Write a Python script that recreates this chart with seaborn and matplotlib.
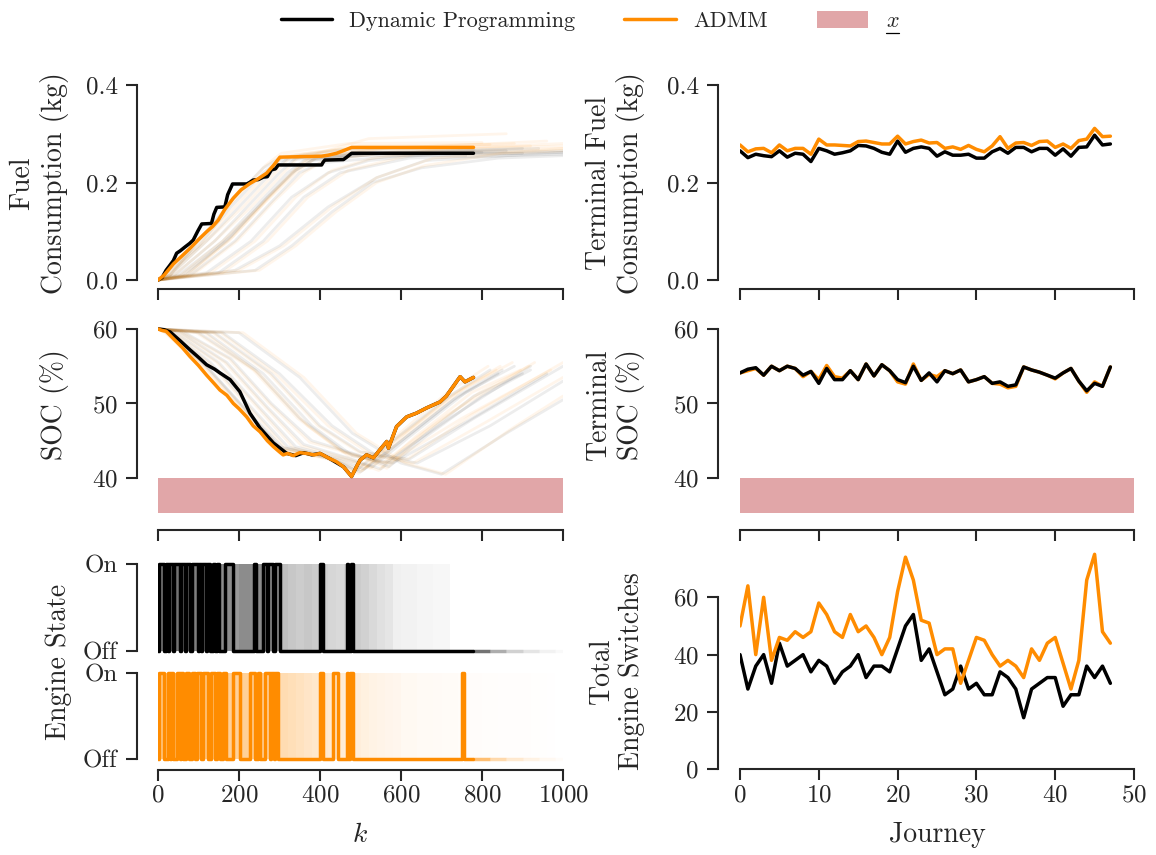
import matplotlib
matplotlib.use("Agg")
import matplotlib.pyplot as plt
import seaborn as sns
from matplotlib.lines import Line2D
from matplotlib.patches import Patch
from matplotlib.collections import LineCollection
from matplotlib.colors import to_rgba
from matplotlib.ticker import FormatStrFormatter

# ---------------- right column: results per journey ----------------
journeys = list(range(48))
term_fuel_dp = [0.265, 0.251, 0.258, 0.255, 0.253, 0.265, 0.252, 0.260, 0.258, 0.243,
                0.270, 0.265, 0.258, 0.261, 0.265, 0.276, 0.275, 0.270, 0.262, 0.258,
                0.285, 0.262, 0.270, 0.273, 0.270, 0.254, 0.263, 0.256, 0.256, 0.258,
                0.250, 0.250, 0.263, 0.270, 0.260, 0.272, 0.272, 0.263, 0.270, 0.270,
                0.256, 0.269, 0.254, 0.272, 0.273, 0.297, 0.277, 0.279]
term_fuel_admm = [0.277, 0.263, 0.269, 0.270, 0.261, 0.277, 0.265, 0.270, 0.270, 0.258,
                  0.289, 0.277, 0.277, 0.276, 0.275, 0.284, 0.285, 0.282, 0.279, 0.279,
                  0.295, 0.279, 0.284, 0.287, 0.281, 0.282, 0.270, 0.273, 0.268, 0.276,
                  0.268, 0.263, 0.275, 0.294, 0.270, 0.281, 0.282, 0.276, 0.284, 0.285,
                  0.272, 0.279, 0.270, 0.286, 0.289, 0.311, 0.294, 0.295]
term_soc_dp = [54.1, 54.6, 54.8, 53.8, 55.0, 54.4, 55.0, 54.7, 53.8, 54.3,
               52.7, 54.7, 53.2, 53.2, 54.4, 53.2, 55.3, 53.7, 55.2, 54.4,
               53.2, 52.8, 55.0, 53.1, 54.1, 52.9, 54.4, 54.0, 54.5, 52.9,
               53.2, 53.6, 52.7, 52.9, 52.3, 52.5, 54.9, 54.5, 54.2, 53.8,
               53.4, 54.1, 54.7, 53.0, 51.7, 52.7, 52.3, 54.9]
term_soc_admm = [54.1, 54.4, 54.7, 53.8, 55.0, 54.4, 55.0, 54.7, 53.6, 54.3,
                 53.2, 55.1, 53.6, 53.4, 54.4, 53.2, 55.3, 53.7, 55.2, 54.4,
                 52.9, 52.6, 55.3, 53.1, 53.9, 53.6, 54.4, 54.0, 54.5, 52.9,
                 53.2, 53.6, 52.7, 52.6, 52.1, 52.3, 54.9, 54.5, 54.2, 53.8,
                 53.3, 54.1, 54.7, 53.0, 51.5, 52.9, 52.3, 54.9]
switches_dp = [40, 28, 36, 40, 30, 44, 36, 38, 40, 34, 38, 36, 30, 34, 36, 40, 32, 36,
               36, 34, 42, 50, 54, 38, 42, 34, 26, 28, 36, 28, 30, 26, 26, 34, 32, 28,
               18, 28, 30, 32, 32, 22, 26, 26, 36, 32, 36, 30]
switches_admm = [50, 64, 40, 60, 38, 46, 45, 48, 46, 48, 58, 54, 48, 46, 54, 48, 50, 46,
                 40, 46, 62, 74, 66, 52, 51, 40, 42, 42, 30, 38, 46, 45, 40, 36, 38, 36,
                 32, 42, 38, 44, 46, 37, 28, 38, 66, 75, 48, 44]

# ---------------- left column: one highlighted journey ----------------
journey_end_k = 779
dp_fuel_k = [0, 10, 20, 30, 38, 46, 55, 67, 78, 87, 98, 108, 132, 138, 145, 165, 172, 184,
             219, 226, 235, 248, 260, 270, 280, 290, 297, 404, 408, 412, 458, 466, 478, 779]
dp_fuel_v = [0, 0.005, 0.02, 0.031, 0.04, 0.055, 0.06, 0.068, 0.075, 0.082, 0.10, 0.115,
             0.116, 0.135, 0.149, 0.150, 0.175, 0.197, 0.197, 0.200, 0.205, 0.206, 0.211,
             0.212, 0.226, 0.228, 0.236, 0.236, 0.242, 0.246, 0.247, 0.252, 0.260, 0.260]
admm_fuel_k = [0, 15, 38, 60, 79, 100, 120, 135, 149, 165, 186, 205, 227, 248, 268, 285,
               301, 404, 420, 441, 460, 478, 779]
admm_fuel_v = [0, 0.010, 0.033, 0.050, 0.065, 0.083, 0.099, 0.110, 0.123, 0.145, 0.168,
               0.185, 0.198, 0.208, 0.219, 0.235, 0.252, 0.254, 0.256, 0.260, 0.266,
               0.272, 0.272]
dp_soc_k = [0, 15, 30, 55, 79, 100, 120, 140, 153, 178, 202, 227, 252, 285, 318, 340, 360,
            380, 400, 424, 458, 478]
dp_soc_v = [60, 59.9, 59.6, 58.4, 57.2, 56.2, 55.2, 54.6, 54.1, 53.2, 51.6, 48.7, 46.7,
            44.7, 43.3, 43.0, 43.4, 43.1, 43.3, 42.6, 41.5, 40.2]
admm_soc_k = [0, 10, 20, 38, 60, 79, 100, 120, 140, 153, 170, 186, 200, 219, 235, 252,
              270, 285, 300, 309, 320, 334, 350, 367, 385, 400, 424, 440, 458, 478]
admm_soc_v = [60, 59.8, 59.7, 58.7, 57.5, 56.3, 55.1, 53.8, 52.6, 51.8, 51.1, 50.0, 49.3,
              48.2, 47.0, 46.2, 45.0, 44.2, 43.5, 43.1, 43.3, 43.0, 43.4, 43.3, 43.1, 43.3,
              42.6, 42.2, 41.5, 40.2]
soc_rise_k = [490, 499, 515, 532, 548, 565, 569, 589, 614, 638, 663, 696, 712, 729, 746,
              758, 779]
soc_rise_v = [41.5, 42.4, 43.1, 42.7, 43.8, 44.9, 44.0, 46.9, 48.2, 48.7, 49.4, 50.2,
              51.0, 52.3, 53.6, 52.9, 53.5]
dp_on_start = [2, 20, 27, 40, 58, 70, 84, 100, 108, 120, 137, 146, 166, 236, 260, 272,
               289, 400, 466, 477]
dp_on_end = [16, 24, 36, 55, 67, 80, 98, 106, 118, 128, 141, 150, 186, 243, 268, 285,
             300, 407, 470, 481]
admm_on_start = [2, 25, 33, 46, 58, 70, 83, 96, 110, 132, 145, 160, 186, 226, 246, 264,
                 280, 290, 400, 433, 466, 474, 751]
admm_on_end = [16, 30, 38, 54, 62, 76, 91, 105, 124, 141, 153, 168, 203, 240, 252, 276,
               287, 297, 407, 445, 470, 482, 755]
soc_lower_bound = 40

# ---------------- left column: the other journeys (faint) ----------------
bg_fuel_dp = [
    ([0, 20, 100, 180, 260, 300, 480, 760], [0, .01, .07, .15, .22, .245, .255, .255]),
    ([0, 30, 120, 200, 280, 320, 500, 800], [0, .01, .08, .15, .22, .25, .262, .262]),
    ([0, 40, 140, 220, 300, 340, 520, 860], [0, .01, .08, .15, .22, .25, .26, .265]),
    ([0, 50, 160, 240, 320, 360, 540, 900], [0, .01, .08, .15, .22, .245, .258, .26]),
    ([0, 60, 170, 260, 330, 380, 560, 940], [0, .01, .08, .16, .22, .245, .26, .27]),
    ([0, 80, 190, 280, 350, 400, 600, 1000], [0, .01, .08, .16, .22, .24, .255, .262]),
    ([0, 30, 110, 190, 260, 300, 460, 780], [0, .01, .09, .17, .23, .25, .268, .268]),
    ([0, 70, 180, 270, 340, 390, 520, 900], [0, .01, .09, .17, .225, .25, .26, .27]),
    ([0, 150, 260, 360, 450, 620, 1000], [0, .015, .08, .17, .22, .25, .258]),
    ([0, 190, 300, 420, 540, 660, 1000], [0, .02, .07, .15, .21, .245, .262]),
    ([0, 240, 330, 430, 530, 650, 840, 1000], [0, .02, .07, .14, .20, .23, .25, .255]),
    ([0, 120, 230, 330, 420, 520, 700, 1000], [0, .015, .08, .17, .22, .245, .26, .265]),
]
bg_fuel_admm = [
    ([0, 20, 100, 190, 270, 310, 480, 760], [0, .01, .07, .15, .22, .255, .27, .272]),
    ([0, 30, 120, 210, 290, 330, 500, 820], [0, .01, .08, .15, .22, .255, .275, .278]),
    ([0, 40, 140, 230, 310, 350, 520, 880], [0, .01, .08, .15, .22, .255, .27, .28]),
    ([0, 55, 160, 250, 330, 370, 540, 920], [0, .01, .08, .15, .22, .25, .268, .275]),
    ([0, 65, 175, 265, 340, 390, 560, 960], [0, .01, .08, .16, .22, .25, .27, .285]),
    ([0, 85, 195, 285, 360, 410, 600, 1000], [0, .01, .08, .16, .22, .245, .265, .275]),
    ([0, 30, 110, 195, 265, 305, 470, 800], [0, .01, .09, .17, .235, .26, .28, .282]),
    ([0, 75, 185, 275, 345, 395, 520, 860], [0, .01, .09, .17, .23, .26, .29, .30]),
    ([0, 160, 270, 370, 470, 640, 1000], [0, .015, .08, .17, .225, .26, .27]),
    ([0, 200, 310, 430, 540, 680, 1000], [0, .02, .07, .15, .21, .25, .27]),
    ([0, 250, 340, 440, 540, 660, 850, 1000], [0, .02, .07, .14, .20, .235, .26, .265]),
    ([0, 130, 240, 340, 430, 530, 710, 1000], [0, .015, .08, .17, .225, .25, .27, .28]),
]
bg_soc_dp = [
    ([0, 20, 110, 210, 300, 420, 490, 580, 720, 820], [60, 59.6, 55.5, 49.5, 44.2, 42.8, 41, 45, 51, 54.5]),
    ([0, 30, 130, 230, 320, 440, 510, 600, 740, 850], [60, 59.6, 55.5, 49.5, 44.2, 42.5, 41.2, 45, 51, 54.5]),
    ([0, 40, 150, 250, 340, 460, 530, 620, 760, 880], [60, 59.6, 55.5, 49.5, 44.2, 42.5, 41.5, 45.5, 51.5, 55]),
    ([0, 50, 170, 270, 360, 480, 550, 640, 780, 900], [60, 59.7, 55.5, 49.5, 44.5, 42.5, 41.2, 45, 51, 54]),
    ([0, 25, 120, 220, 310, 430, 500, 590, 730, 840], [60, 59.5, 55, 49, 44, 42.5, 40.8, 44.5, 50.5, 54]),
    ([0, 60, 180, 280, 380, 500, 570, 660, 800, 920], [60, 59.7, 56, 50, 45, 43, 41.5, 45.5, 51, 54.5]),
    ([0, 120, 260, 380, 480, 580, 760, 960], [60, 59.5, 54, 47, 43, 42, 47.5, 54]),
    ([0, 160, 300, 430, 540, 640, 820, 1000], [60, 59.5, 54, 47, 43, 42, 47, 53]),
    ([0, 200, 350, 480, 600, 700, 860, 1000], [60, 59.5, 53.5, 46, 42, 40.5, 46, 50.5]),
    ([0, 100, 240, 350, 460, 560, 720, 920], [60, 59.5, 54.5, 48, 43.5, 42, 48, 55]),
    ([0, 140, 280, 400, 500, 620, 780, 1000], [60, 59.5, 54, 47, 43.5, 42.5, 48, 55]),
]
bg_soc_admm = [
    ([0, 15, 100, 200, 290, 410, 485, 575, 715, 815], [60, 59.6, 55.5, 49.5, 44, 42.8, 40.8, 45, 51.5, 55]),
    ([0, 25, 125, 225, 315, 435, 505, 595, 735, 845], [60, 59.6, 55.5, 49.5, 44, 42.5, 41, 45.5, 51.5, 55]),
    ([0, 35, 145, 245, 335, 455, 525, 615, 755, 875], [60, 59.6, 55.5, 49.5, 44, 42.5, 41.3, 46, 52, 55.5]),
    ([0, 45, 165, 265, 355, 475, 545, 635, 775, 895], [60, 59.7, 55.5, 49.5, 44.3, 42.5, 41, 45.5, 51.5, 54.5]),
    ([0, 20, 115, 215, 305, 425, 495, 585, 725, 835], [60, 59.5, 55, 49, 43.8, 42.5, 40.6, 45, 51, 54.5]),
    ([0, 55, 175, 275, 375, 495, 565, 655, 795, 915], [60, 59.7, 56, 50, 44.8, 43, 41.3, 46, 51.5, 55]),
    ([0, 115, 250, 370, 470, 570, 750, 970], [60, 59.5, 54, 47, 43, 42, 48, 54.5]),
    ([0, 155, 290, 420, 530, 630, 810, 1000], [60, 59.5, 54, 47, 43, 42, 47.5, 53.5]),
    ([0, 210, 360, 490, 610, 710, 870, 1000], [60, 59.5, 53.5, 46, 42, 40.5, 46.5, 51]),
    ([0, 95, 235, 345, 455, 555, 715, 930], [60, 59.5, 54.5, 48, 43.5, 42, 48.5, 55.5]),
    ([0, 135, 275, 395, 495, 615, 775, 1000], [60, 59.5, 54, 47, 43.5, 42.5, 48.5, 55.5]),
]
bg_engine_bins = list(range(0, 1000, 20))
bg_engine_share_dp = [0.50, 0.50, 0.55, 0.50, 0.50, 0.50, 0.45, 0.45, 0.45, 0.40,
                      0.45, 0.45, 0.45, 0.40, 0.40, 0.25, 0.22, 0.20, 0.22, 0.20,
                      0.18, 0.16, 0.15, 0.18, 0.20, 0.18, 0.15, 0.12, 0.10, 0.06,
                      0.05, 0.05, 0.04, 0.04, 0.03, 0.03, 0.0, 0.0, 0.0, 0.0,
                      0.0, 0.0, 0.0, 0.0, 0.0, 0.0, 0.0, 0.0, 0.0, 0.0]
bg_engine_share_admm = [0.45, 0.45, 0.50, 0.45, 0.45, 0.45, 0.40, 0.40, 0.40, 0.40,
                        0.40, 0.40, 0.40, 0.35, 0.35, 0.30, 0.28, 0.25, 0.22, 0.20,
                        0.20, 0.18, 0.16, 0.15, 0.14, 0.12, 0.10, 0.09, 0.08, 0.07,
                        0.05, 0.05, 0.04, 0.04, 0.035, 0.03, 0.03, 0.025, 0.02, 0.02,
                        0.015, 0.015, 0.01, 0.01, 0.01, 0.01, 0.008, 0.008, 0.005, 0.0]
bg_off_k = [779, 820, 860, 900, 940, 980, 1000]
bg_off_alpha = [0.55, 0.32, 0.18, 0.10, 0.05, 0.025]

# ---------------- style ----------------
sns.set_theme(style="ticks")
plt.rcParams.update({
    "font.family": ["cmr10"],
    "mathtext.fontset": "cm",
    "axes.formatter.use_mathtext": True,
    "axes.unicode_minus": False,
})
INK = "#262626"
ORANGE = "darkorange"
BAND = "#C44E52"
W, H = 1156, 855
fig = plt.figure(figsize=(W / 100, H / 100), dpi=100)


def rect(x0, x1, ytop, ybot):
    return [x0 / W, 1 - ybot / H, (x1 - x0) / W, (ybot - ytop) / H]


def style(ax, xb, yb, left_px, bottom_px, xticks, yticks, show_x=True, xlabels=False):
    for s in ("top", "right"):
        ax.spines[s].set_visible(False)
    for s in ("left", "bottom"):
        ax.spines[s].set_linewidth(1.5)
        ax.spines[s].set_color(INK)
    ax.spines["left"].set_position(("outward", left_px * 0.72))
    ax.spines["left"].set_bounds(*yb)
    ax.set_yticks(yticks)
    ax.tick_params(axis="both", length=8, width=1.5, color=INK, labelcolor=INK,
                   labelsize=18)
    ax.tick_params(axis="y", pad=6)
    ax.tick_params(axis="x", pad=2.5)
    if show_x:
        ax.spines["bottom"].set_position(("outward", bottom_px * 0.72))
        ax.spines["bottom"].set_bounds(*xb)
        ax.set_xticks(xticks)
        if not xlabels:
            ax.tick_params(axis="x", labelbottom=False)
    else:
        ax.spines["bottom"].set_visible(False)
        ax.set_xticks([])
    ax.set_xlabel("")
    ax.set_ylabel("")


def line(ax, x, y, color, lw=2.5, alpha=1.0, z=3):
    sns.lineplot(x=x, y=y, ax=ax, color=color, lw=lw, alpha=alpha, sort=False,
                 estimator=None, zorder=z, legend=False)


def step_xy(starts, ends, end_k):
    xs, ys = [0], [0]
    for s, e in zip(starts, ends):
        xs += [s, s, e, e]
        ys += [0, 1, 1, 0]
    xs.append(end_k)
    ys.append(0)
    return xs, ys


kticks = [0, 200, 400, 600, 800, 1000]
jticks = [0, 10, 20, 30, 40, 50]

# ---- fuel (left) ----
ax = fig.add_axes(rect(158, 563, 80.1, 285.9))
for k, v in bg_fuel_dp:
    line(ax, k, v, "black", lw=2, alpha=0.07, z=1)
for k, v in bg_fuel_admm:
    line(ax, k, v, ORANGE, lw=2, alpha=0.08, z=1)
line(ax, dp_fuel_k, dp_fuel_v, "black")
line(ax, admm_fuel_k, admm_fuel_v, ORANGE, z=4)
ax.set_xlim(0, 1000)
ax.set_ylim(-0.012, 0.41)
style(ax, (0, 1000), (0, 0.4), 21, 3, kticks, [0, 0.2, 0.4])
ax.yaxis.set_major_formatter(FormatStrFormatter("%.1f"))
ax.set_ylabel("Fuel\nConsumption (kg)", fontsize=20, color=INK)
ax.yaxis.set_label_coords(-0.22, 0.5)

# ---- SOC (left) ----
ax = fig.add_axes(rect(158, 563, 326.0, 513.0))
ax.axhspan(30, soc_lower_bound, color=BAND, alpha=0.5, lw=0, zorder=0)
for k, v in bg_soc_dp:
    line(ax, k, v, "black", lw=2, alpha=0.07, z=1)
for k, v in bg_soc_admm:
    line(ax, k, v, ORANGE, lw=2, alpha=0.08, z=1)
line(ax, dp_soc_k + soc_rise_k, dp_soc_v + soc_rise_v, "black")
line(ax, admm_soc_k + soc_rise_k, admm_soc_v + soc_rise_v, ORANGE, z=4)
ax.set_xlim(0, 1000)
ax.set_ylim(35.3, 60.4)
style(ax, (0, 1000), (40, 60), 21, 17, kticks, [40, 50, 60])
ax.set_ylabel("SOC (%)", fontsize=20, color=INK)
ax.yaxis.set_label_coords(-0.22, 0.58)

# ---- engine state (left, two stacked axes) ----
for top, bot, color, starts, ends, share, with_x in [
        (558.8, 656.2, "black", dp_on_start, dp_on_end, bg_engine_share_dp, False),
        (667.8, 764.2, ORANGE, admm_on_start, admm_on_end, bg_engine_share_admm, True)]:
    ax = fig.add_axes(rect(158, 563, top, bot))
    ax.bar(bg_engine_bins, [1] * len(bg_engine_bins), width=20, bottom=0, align="edge",
           color=[to_rgba(color, a) for a in share], lw=0, zorder=1)
    segs = [[(bg_off_k[i], 0), (bg_off_k[i + 1], 0)] for i in range(len(bg_off_alpha))]
    ax.add_collection(LineCollection(segs, colors=[to_rgba(color, a) for a in bg_off_alpha],
                                     linewidths=2.5, zorder=2))
    xs, ys = step_xy(starts, ends, journey_end_k)
    line(ax, xs, ys, color, lw=2.5, z=3)
    ax.set_xlim(0, 1000)
    ax.set_ylim(-0.06, 1.06)
    style(ax, (0, 1000), (0, 1), 21, 5.5, kticks, [0, 1], show_x=with_x, xlabels=with_x)
    ax.set_yticklabels(["Off", "On"])
    if with_x:
        ax.set_xlabel("$k$", fontsize=20, color=INK)
        ax.xaxis.set_label_coords(0.5, -0.6)
        ax.set_ylabel("Engine State", fontsize=20, color=INK)
        ax.yaxis.set_label_coords(-0.212, 1.063)

# ---- terminal fuel (right) ----
ax = fig.add_axes(rect(740, 1134, 80.1, 285.9))
line(ax, journeys, term_fuel_dp, "black")
line(ax, journeys, term_fuel_admm, ORANGE, z=4)
ax.set_xlim(0, 50)
ax.set_ylim(-0.012, 0.41)
style(ax, (0, 50), (0, 0.4), 22, 3, jticks, [0, 0.2, 0.4])
ax.yaxis.set_major_formatter(FormatStrFormatter("%.1f"))
ax.set_ylabel("Terminal Fuel\nConsumption (kg)", fontsize=20, color=INK)
ax.yaxis.set_label_coords(-0.241, 0.5)

# ---- terminal SOC (right) ----
ax = fig.add_axes(rect(740, 1134, 326.0, 513.0))
ax.axhspan(30, soc_lower_bound, color=BAND, alpha=0.5, lw=0, zorder=0)
line(ax, journeys, term_soc_admm, ORANGE, z=3)
line(ax, journeys, term_soc_dp, "black", z=4)
ax.set_xlim(0, 50)
ax.set_ylim(35.3, 60.4)
style(ax, (0, 50), (40, 60), 22, 17, jticks, [40, 50, 60])
ax.set_ylabel("Terminal\nSOC (%)", fontsize=20, color=INK)
ax.yaxis.set_label_coords(-0.241, 0.58)

# ---- engine switches (right) ----
ax = fig.add_axes(rect(740, 1134, 545.7, 769.3))
line(ax, journeys, switches_dp, "black")
line(ax, journeys, switches_admm, ORANGE, z=4)
ax.set_xlim(0, 50)
ax.set_ylim(0, 78)
style(ax, (0, 50), (0, 60), 22, 0, jticks, [0, 20, 40, 60], xlabels=True)
ax.set_xlabel("Journey", fontsize=20, color=INK)
ax.xaxis.set_label_coords(0.5, -0.236)
ax.set_ylabel("Total\nEngine Switches", fontsize=20, color=INK)
ax.yaxis.set_label_coords(-0.241, 0.44)

# ---- legend ----
handles = [Line2D([], [], color="black", lw=2.5),
           Line2D([], [], color=ORANGE, lw=2.5),
           Patch(facecolor=BAND, alpha=0.5, lw=0)]
labels = ["Dynamic Programming", "ADMM", "$x$"]
leg = fig.legend(handles, labels, loc="center", bbox_to_anchor=(590 / W, 1 - 21 / H),
                 ncol=3, frameon=False, fontsize=16, handlelength=2.3,
                 handleheight=0.8, handletextpad=0.8, columnspacing=2.2)

# underline the lower-bound symbol (mathtext has no \underline)
fig.canvas.draw()
bb = leg.get_texts()[2].get_window_extent(renderer=fig.canvas.get_renderer())
uy = bb.y0 - 1.5
fig.add_artist(Line2D([bb.x0 / W, bb.x1 / W], [uy / H, uy / H], color="black", lw=0.9,
                      transform=fig.transFigure))

fig.savefig("out.png", dpi=100)
